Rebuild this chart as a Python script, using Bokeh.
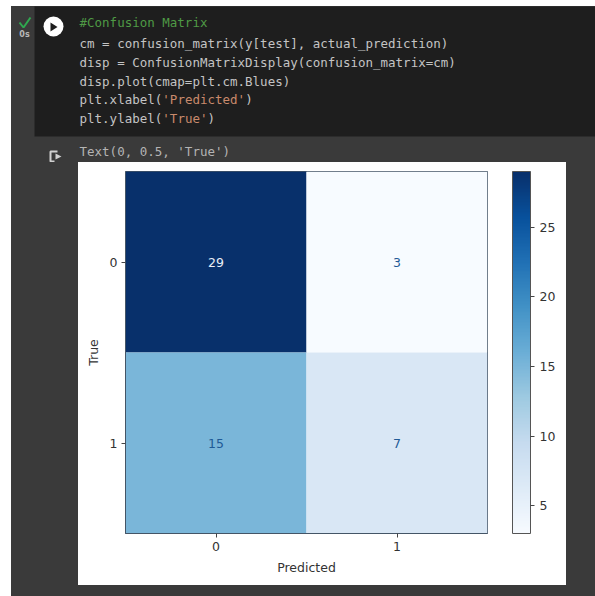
from bokeh.embed import file_html
from bokeh.resources import INLINE
from bokeh.layouts import column, row
from bokeh.plotting import figure
from bokeh.models import ColorBar, FixedTicker, LinearColorMapper, ColumnDataSource
from bokeh.palettes import Blues256
from bokeh.core.properties import value

# ---- data
true_labels = [0, 0, 1, 1]
pred_labels = [0, 1, 0, 1]
counts = [29, 3, 15, 7]
ticks = [0, 1]
cbar_ticks = [5, 10, 15, 20, 25]
x_title = "Predicted"
y_title = "True"
code_lines = [
    [("#Confusion Matrix", "#4f9a45")],
    [("cm = confusion_matrix(y[test], actual_prediction)", "#c4c4c4")],
    [("disp = ConfusionMatrixDisplay(confusion_matrix=cm)", "#c4c4c4")],
    [("disp.plot(cmap=plt.cm.Blues)", "#c4c4c4")],
    [("plt.xlabel(", "#c4c4c4"), ("'Predicted'", "#c98a6c"), (")", "#c4c4c4")],
    [("plt.ylabel(", "#c4c4c4"), ("'True'", "#c98a6c"), (")", "#c4c4c4")],
]
code_y = [22, 43, 62, 81, 99, 118]
output_text = "Text(0, 0.5, 'True')"

W, H = 595, 596
PANEL_L, PANEL_T, PANEL_R, PANEL_B = 78, 162, 566, 585
FL, FT, FS = 125, 171, 362
FONT = "DejaVu Sans"
MONO = "DejaVu Sans Mono"
DARK = "#3a3a3a"


def chrome(x0, y0, x1, y1, css=DARK):
    f = figure(width=x1 - x0, height=y1 - y0, output_backend="svg", toolbar_location=None,
               x_range=(x0, x1), y_range=(y1, y0), x_axis_location=None, y_axis_location=None,
               min_border=0, background_fill_alpha=0, border_fill_alpha=0, outline_line_color=None,
               styles={"background": css})
    f.grid.visible = False
    return f


def rects(f, x0, y0, x1, y1, color):
    f.quad(left=x0, right=x1, top=y0, bottom=y1, fill_color=color, line_color=None)


# ---- top: code cell
top = chrome(0, 0, W, PANEL_T,
             css=f"linear-gradient(#fff 6px, transparent 6px), linear-gradient(to right, #fff 11px, {DARK} 11px)")
rects(top, 34, 6, W, 136, "#1e1e1e")
top.scatter([53], [26], size=20, fill_color="#ffffff", line_color=None)
top.patch([50, 50, 57], [22, 31, 26.5], fill_color="#1e1e1e", line_color=None)
top.line([19, 23, 30], [22, 27, 17], line_color="#2fa84f", line_width=2)
top.text([24], [34], text=["0s"], text_color="#b8b8b8", text_font=value(FONT), text_font_size="8px",
         text_font_style="bold", text_align="center", text_baseline="middle")
top.line([57, 50, 50, 54], [151, 151, 161, 161], line_color="#d0d0d0", line_width=2)
top.patch([55, 55, 61], [153, 159, 156], fill_color="#d0d0d0", line_color=None)

char_w = 7.53
for line, y in zip(code_lines, code_y):
    x = 79
    for seg, col in line:
        top.text([x], [y], text=[seg], text_color=col, text_font=value(MONO), text_font_size="12.5px",
                 text_baseline="middle")
        x += len(seg) * char_w
top.text([79], [151], text=[output_text], text_color="#b4b4b4", text_font=value(MONO), text_font_size="12.5px",
         text_baseline="middle")

# ---- side and bottom strips
left = chrome(0, PANEL_T, PANEL_L, H, css=f"linear-gradient(to right, #fff 11px, {DARK} 11px)")
right = chrome(PANEL_R, PANEL_T, W, H)
bottom = chrome(PANEL_L, PANEL_B, PANEL_R, H)

# ---- heatmap
mapper = LinearColorMapper(palette=list(Blues256[::-1]), low=3, high=29)
src = ColumnDataSource(dict(x=pred_labels, y=true_labels, c=counts, t=[str(v) for v in counts],
                            tc=["#e8eef6" if v > 16 else "#1f5a96" for v in counts]))

p = figure(width=PANEL_R - PANEL_L, height=PANEL_B - PANEL_T, output_backend="svg", toolbar_location=None,
           x_range=(-0.5, 1.5), y_range=(1.5, -0.5),
           frame_width=FS, frame_height=FS,
           min_border_left=FL - PANEL_L, min_border_right=PANEL_R - FL - FS,
           min_border_top=FT - PANEL_T, min_border_bottom=PANEL_B - FT - FS,
           border_fill_color="#ffffff", background_fill_color="#ffffff", outline_line_color="#445566")
p.grid.visible = False

p.rect("x", "y", width=1, height=1, source=src, fill_color={"field": "c", "transform": mapper},
       line_color=None)
p.text("x", "y", text="t", source=src, text_color="tc", text_align="center", text_baseline="middle",
       text_font=value(FONT), text_font_size="12.5px")

for ax, title in ((p.xaxis, x_title), (p.yaxis, y_title)):
    ax.ticker = FixedTicker(ticks=ticks)
    ax.axis_label = title
    ax.axis_label_text_font = FONT
    ax.axis_label_text_font_size = "12.5px"
    ax.axis_label_text_font_style = "normal"
    ax.axis_label_text_color = "#333333"
    ax.major_label_text_font = FONT
    ax.major_label_text_font_size = "12.5px"
    ax.major_label_text_color = "#333333"
    ax.major_tick_out = 4
    ax.major_tick_in = 0
    ax.minor_tick_line_color = None
    ax.major_tick_line_color = "#444444"
    ax.axis_line_color = "#445566"
    ax.major_label_standoff = 4
    ax.axis_label_standoff = 6

cb = ColorBar(color_mapper=mapper, ticker=FixedTicker(ticks=cbar_ticks), width=18, height=FS,
              padding=0, margin=0, location=(25, 0), background_fill_alpha=0, border_line_color=None,
              bar_line_color="#555555", major_tick_out=4, major_tick_in=0, major_tick_line_color="#444444",
              minor_tick_line_color=None, major_label_text_font=FONT, major_label_text_font_size="12.5px",
              major_label_text_color="#333333", label_standoff=5)
p.add_layout(cb, "right")

page = column(top, row(left, column(p, bottom, spacing=0), right, spacing=0), spacing=0)
open("out.html", "w").write(file_html(page, INLINE))
